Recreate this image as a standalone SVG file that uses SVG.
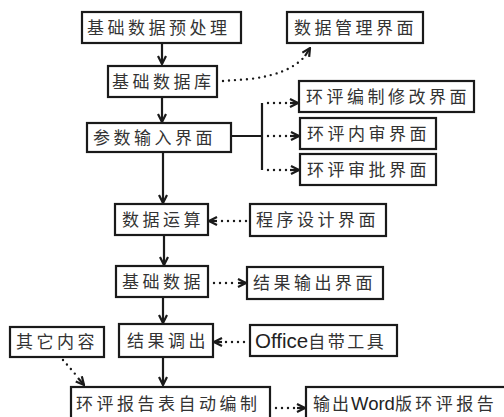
<svg xmlns="http://www.w3.org/2000/svg" width="504" height="417" viewBox="0 0 504 417">
<style>
.box{fill:#fff;stroke:#1a1a1a;stroke-width:2.2}
.t{font-family:"Noto Sans CJK SC","Noto Sans",sans-serif;font-size:17px;letter-spacing:3.5px;fill:#333}
.lat{font-family:"Liberation Sans",Arial,sans-serif;letter-spacing:0;fill:#222}
.solid{fill:none;stroke:#1a1a1a;stroke-width:2.2}
.dot{fill:none;stroke:#1a1a1a;stroke-width:2.4;stroke-linecap:round;stroke-dasharray:0 6}
</style>
<defs>
<marker id="ah" viewBox="0 0 10 10" refX="9" refY="5" markerWidth="10" markerHeight="10" markerUnits="userSpaceOnUse" orient="auto">
<path d="M1,1 L9,5 L1,9" fill="none" stroke="#1a1a1a" stroke-width="2.2"/>
</marker>
</defs>
<rect width="504" height="417" fill="#fff"/>
<g id="connectors">
<line class="solid" x1="162" y1="43" x2="162" y2="64" marker-end="url(#ah)"/>
<line class="solid" x1="162" y1="97" x2="162" y2="122" marker-end="url(#ah)"/>
<line class="solid" x1="163" y1="152" x2="163" y2="203" marker-end="url(#ah)"/>
<line class="solid" x1="164" y1="235" x2="164" y2="265" marker-end="url(#ah)"/>
<line class="solid" x1="163" y1="297" x2="163" y2="323" marker-end="url(#ah)"/>
<line class="solid" x1="163" y1="357" x2="163" y2="385" marker-end="url(#ah)"/>
<path class="dot" d="M223,81 L250,79 Q290,74 305,56"/>
<path class="solid" d="M305,56 L310,48" marker-end="url(#ah)"/>
<path class="solid" d="M231,136 L262,136 M262,103 L262,170"/>
<line class="dot" x1="268" y1="103" x2="290" y2="103"/>
<line class="dot" x1="268" y1="136" x2="290" y2="136"/>
<line class="dot" x1="268" y1="170" x2="290" y2="170"/>
<path class="solid" d="M290,103 L298,103" marker-end="url(#ah)"/>
<path class="solid" d="M290,136 L299,136" marker-end="url(#ah)"/>
<path class="solid" d="M290,170 L299,170" marker-end="url(#ah)"/>
<line class="dot" x1="246" y1="221" x2="220" y2="221"/>
<path class="solid" d="M217,221 L209,221" marker-end="url(#ah)"/>
<line class="dot" x1="214" y1="283" x2="236" y2="283"/>
<path class="solid" d="M238,283 L246,283" marker-end="url(#ah)"/>
<line class="dot" x1="244" y1="342" x2="224" y2="342"/>
<path class="solid" d="M222,342 L214,342" marker-end="url(#ah)"/>
<path class="dot" d="M63,360 L76,375"/>
<path class="solid" d="M78,378 L84,385" marker-end="url(#ah)"/>
<line class="dot" x1="276" y1="408" x2="296" y2="408"/>
<path class="solid" d="M297,408 L305,408" marker-end="url(#ah)"/>
</g>
<g id="n1"><rect class="box" x="82" y="12" width="159" height="31"/><text class="t" x="87" y="34">基础数据预处理</text></g>
<g id="n2"><rect class="box" x="108" y="66" width="109" height="31"/><text class="t" x="112" y="88">基础数据库</text></g>
<g id="n3"><rect class="box" x="87" y="123" width="144" height="29"/><text class="t" x="93" y="144">参数输入界面</text></g>
<g id="n4"><rect class="box" x="287" y="12" width="136" height="31"/><text class="t" x="294" y="34">数据管理界面</text></g>
<g id="n5"><rect class="box" x="299" y="81" width="175" height="31"/><text class="t" x="306" y="103">环评编制修改界面</text></g>
<g id="n6"><rect class="box" x="300" y="118" width="136" height="31"/><text class="t" x="307" y="140">环评内审界面</text></g>
<g id="n7"><rect class="box" x="300" y="154" width="136" height="31"/><text class="t" x="307" y="176">环评审批界面</text></g>
<g id="n8"><rect class="box" x="115" y="204" width="93" height="31"/><text class="t" x="122" y="226">数据运算</text></g>
<g id="n9"><rect class="box" x="250" y="204" width="136" height="32"/><text class="t" x="256" y="226">程序设计界面</text></g>
<g id="n10"><rect class="box" x="116" y="266" width="92" height="31"/><text class="t" x="122" y="288">基础数据</text></g>
<g id="n11"><rect class="box" x="247" y="267" width="136" height="32"/><text class="t" x="253" y="289">结果输出界面</text></g>
<g id="n12"><rect class="box" x="119" y="324" width="94" height="33"/><text class="t" x="127" y="347">结果调出</text></g>
<g id="n13"><rect class="box" x="10" y="327" width="94" height="30"/><text class="t" x="16" y="348">其它内容</text></g>
<g id="n14"><rect class="box" x="250" y="325" width="147" height="31"/><text class="t" x="255" y="348"><tspan class="lat" font-size="20.5">Office</tspan><tspan letter-spacing="2.5">自带工具</tspan></text></g>
<g id="n15"><rect class="box" x="71" y="387" width="199" height="34"/><text class="t" x="76" y="410">环评报告表自动编制</text></g>
<g id="n16"><rect class="box" x="306" y="387" width="210" height="34"/><text class="t" x="313" y="410"><tspan letter-spacing="2">输出</tspan><tspan class="lat" font-size="18.5">Word</tspan><tspan>版环评报告</tspan></text></g>
</svg>
